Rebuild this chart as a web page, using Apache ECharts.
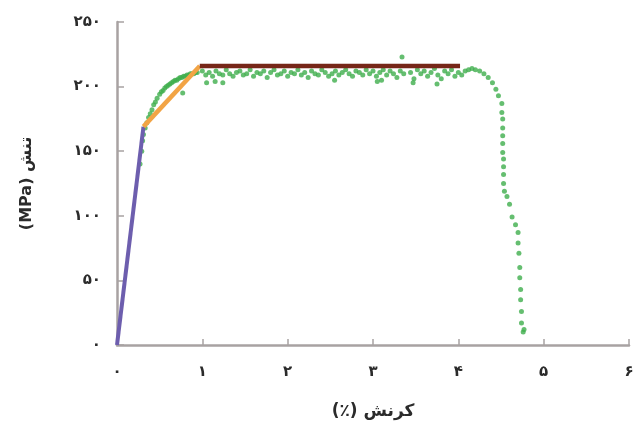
<!DOCTYPE html>
<html>
<head>
<meta charset="utf-8">
<script src="https://cdn.jsdelivr.net/npm/echarts@6/dist/echarts.min.js"></script>
<style>
html,body{margin:0;padding:0;background:#fff;}
#c{width:640px;height:429px;direction:rtl;}
</style>
</head>
<body>
<div id="c"></div>
<script>
// ---- data ----
var xTickLabels = ['۰','۱','۲','۳','۴','۵','۶'];
var yTickLabels = ['۰','۵۰','۱۰۰','۱۵۰','۲۰۰','۲۵۰'];
var xTitle = 'کرنش (٪)';
var yTitle = 'تنش (MPa)';

var elasticLine = [[0,0],[0.31,169]];
var hardeningLine = [[0.31,169],[0.97,216]];
var plateauLine = [[0.97,216],[4.02,216]];

var testPoints = [
  [0.27,140],[0.29,150],[0.30,158],[0.31,163],[0.33,168],[0.35,172],
  [0.37,176],[0.39,179],[0.41,182],[0.43,186],[0.45,188],[0.47,191],[0.50,194],[0.52,196],[0.54,197],
  [0.56,199],[0.58,200],[0.60,201],[0.62,202],[0.64,203],[0.66,204],[0.68,205],[0.70,205],[0.72,206],
  [0.74,207],[0.76,207],[0.78,208],[0.80,208],[0.82,209],[0.84,209],[0.86,210],[0.88,210],
  [0.90,210],[0.92,211],[0.94,211],[0.77,195],
  [1.00,212],[1.04,209],[1.08,211],[1.12,208],[1.16,212],[1.20,210],[1.24,209],
  [1.28,213],[1.32,210],[1.36,208],[1.40,211],[1.44,212],[1.48,209],[1.52,210],
  [1.56,213],[1.60,208],[1.64,211],[1.68,210],[1.72,212],[1.76,207],[1.80,211],
  [1.84,213],[1.88,209],[1.92,210],[1.96,212],[2.00,208],[2.04,211],[2.08,210],
  [2.12,213],[2.16,209],[2.20,211],[2.24,207],[2.28,212],[2.32,210],[2.36,209],
  [2.40,213],[2.44,211],[2.48,208],[2.52,210],[2.56,212],[2.60,209],[2.64,211],
  [2.68,213],[2.72,210],[2.76,208],[2.80,212],[2.84,211],[2.88,209],[2.92,213],
  [2.96,210],[3.00,212],[3.04,208],[3.08,211],[3.12,213],[3.16,209],[3.20,212],
  [3.24,210],[3.28,207],[3.32,212],[3.36,210],[3.34,223],[3.44,211],[3.48,206],
  [3.52,213],[3.56,210],[3.60,212],[3.64,208],[3.68,211],[3.72,214],[3.76,209],
  [3.80,206],[3.84,212],[3.88,210],[3.92,213],[3.96,208],[4.00,211],[4.04,209],
  [1.05,203],[1.15,204],[1.24,203],[2.55,205],[3.05,204],[3.47,203],[3.75,202],[3.10,205],
  [4.08,212],[4.12,213],[4.16,214],[4.20,213],[4.25,212],[4.30,210],[4.35,207],
  [4.40,203],[4.44,198],[4.47,193],
  [4.51,187],[4.51,180],[4.52,175],[4.52,168],[4.52,162],[4.52,156],[4.52,149],
  [4.53,144],[4.53,138],[4.53,132],[4.53,125],[4.54,119],[4.57,115],[4.60,109],
  [4.63,99],[4.67,93],[4.70,87],[4.70,79],[4.71,71],[4.72,60],[4.72,52],[4.73,43],
  [4.73,35],[4.74,26],[4.74,17],[4.76,10],[4.77,12]
];

var chart = echarts.init(document.getElementById('c'));
var axisGray = '#a8a2a2';
var labelStyle = {color:'#2b2b2b', fontFamily:'DejaVu Sans', fontSize:15, fontWeight:'bold'};
chart.setOption({
  animation:false,
  backgroundColor:'#fff',
  grid:{left:117, right:11, top:22, bottom:84},
  xAxis:{
    type:'value', min:0, max:6, interval:1,
    axisLine:{lineStyle:{color:axisGray, width:2.5}},
    axisTick:{inside:true, length:6, lineStyle:{color:axisGray, width:1.5}},
    splitLine:{show:false},
    axisLabel:Object.assign({margin:20, formatter:function(v){return xTickLabels[Math.round(v)];}}, labelStyle),
    name:xTitle, nameLocation:'middle', nameGap:58,
    nameTextStyle:{color:'#2b2b2b', fontFamily:'DejaVu Sans', fontSize:17, fontWeight:'bold'}
  },
  yAxis:{
    type:'value', min:0, max:250, interval:50,
    axisLine:{lineStyle:{color:axisGray, width:2.5}},
    axisTick:{inside:true, length:7, lineStyle:{color:axisGray, width:1.5}},
    splitLine:{show:false},
    axisLabel:Object.assign({margin:16, formatter:function(v){return yTickLabels[Math.round(v/50)];}}, labelStyle),
    name:yTitle, nameLocation:'middle', nameGap:82, nameRotate:90,
    nameTextStyle:{color:'#2b2b2b', fontFamily:'DejaVu Sans', fontSize:16, fontWeight:'bold'}
  },
  series:[
    {type:'scatter', data:testPoints, symbolSize:5, itemStyle:{color:'#3fae4c'}, z:1},
    {type:'line', data:elasticLine, showSymbol:false, lineStyle:{color:'#6d5eae', width:4}, z:3},
    {type:'line', data:hardeningLine, showSymbol:false, lineStyle:{color:'#f2a445', width:4.5}, z:3},
    {type:'line', data:plateauLine, showSymbol:false, lineStyle:{color:'#762618', width:4.5}, z:3}
  ]
});
</script>
</body>
</html>
